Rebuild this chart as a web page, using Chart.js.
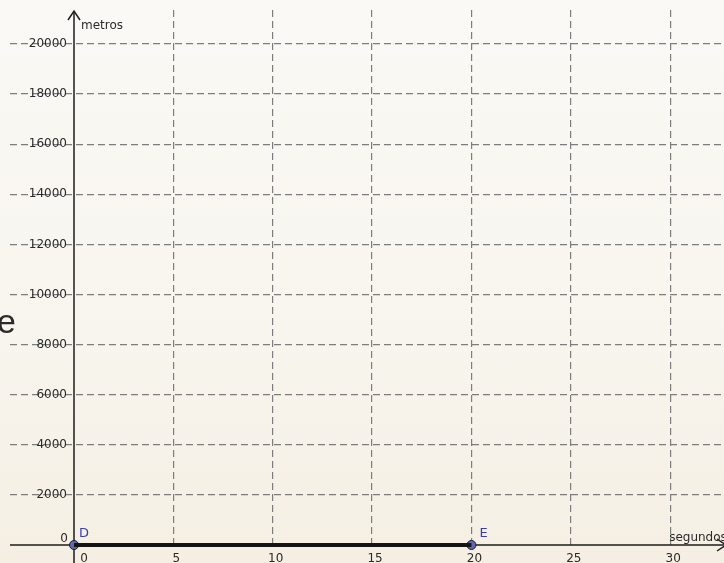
<!DOCTYPE html>
<html>
<head>
<meta charset="utf-8">
<script src="https://cdn.jsdelivr.net/npm/chart.js@4/dist/chart.umd.min.js"></script>
<style>
  html, body { margin: 0; padding: 0; }
  body { width: 724px; height: 563px; overflow: hidden;
    background: linear-gradient(to bottom, #faf9f5 0%, #f8f5ee 60%, #f5efe3 100%); }
  canvas { display: block; }
</style>
</head>
<body>
<canvas id="c" width="724" height="563"></canvas>
<script>
// ---- data ----
const xTicks = [0, 5, 10, 15, 20, 25, 30];
const yTicks = [0, 2000, 4000, 6000, 8000, 10000, 12000, 14000, 16000, 18000, 20000];
const pointLabels = ['D', 'E'];
const pointX = [0, 20];
const pointY = [0, 0];
const xTitle = 'segundos';
const yTitle = 'metros';
const sideText = 'e';

const segment = pointX.map((x, i) => ({ x: x, y: pointY[i] }));
const points = pointX.map((x, i) => ({ x: x, y: pointY[i], label: pointLabels[i] }));

const FONT = '12px "DejaVu Sans", sans-serif';
const AXIS = '#1e1e1e';

const overlay = {
  id: 'overlay',
  beforeDatasetsDraw(chart) {
    const ctx = chart.ctx;
    const xs = chart.scales.x, ys = chart.scales.y;
    const x0 = xs.getPixelForValue(0), y0 = ys.getPixelForValue(0);
    ctx.save();
    ctx.strokeStyle = AXIS;
    ctx.lineWidth = 1.5;
    ctx.beginPath();
    ctx.moveTo(10, y0); ctx.lineTo(chart.width, y0);
    ctx.moveTo(x0, 11); ctx.lineTo(x0, chart.height);
    ctx.stroke();
    ctx.beginPath();
    ctx.moveTo(x0 - 6, 20); ctx.lineTo(x0, 11); ctx.lineTo(x0 + 6, 20);
    ctx.stroke();
    const xe = chart.width + 2;
    ctx.beginPath();
    ctx.moveTo(xe - 9, y0 - 6); ctx.lineTo(xe, y0); ctx.lineTo(xe - 9, y0 + 6);
    ctx.stroke();
    ctx.fillStyle = '#2a2a2a';
    ctx.font = FONT;
    ctx.textAlign = 'right';
    ctx.textBaseline = 'middle';
    yTicks.forEach(v => {
      if (v === 0) {
        ctx.textBaseline = 'alphabetic';
        ctx.fillText('0', x0 - 6, y0 - 3);
        ctx.textBaseline = 'middle';
      } else {
        ctx.fillText(String(v), x0 - 7, ys.getPixelForValue(v));
      }
    });
    ctx.textAlign = 'center';
    ctx.textBaseline = 'alphabetic';
    xTicks.forEach(v => {
      const px = xs.getPixelForValue(v);
      ctx.fillText(String(v), v === 0 ? px + 10 : px + 3, 562);
    });
    ctx.textAlign = 'left';
    ctx.fillText(yTitle, x0 + 7, 29);
    ctx.fillText(xTitle, xs.getPixelForValue(30) - 1, 541);
    ctx.font = '34px "Liberation Sans", Arial, sans-serif';
    ctx.fillStyle = '#2a2a2a';
    ctx.fillText(sideText, -3, 333);
    ctx.restore();
  },
  afterDatasetsDraw(chart) {
    const ctx = chart.ctx;
    const xs = chart.scales.x, ys = chart.scales.y;
    ctx.save();
    ctx.font = '13px "DejaVu Sans", sans-serif';
    ctx.fillStyle = '#3b3bb0';
    ctx.textAlign = 'left';
    ctx.textBaseline = 'alphabetic';
    points.forEach((p, i) => {
      const px = xs.getPixelForValue(p.x), py = ys.getPixelForValue(p.y);
      ctx.fillText(p.label, px + (i === 0 ? 5 : 8), py - 8);
    });
    ctx.restore();
  }
};

const gridColor = (c) => (c.tick && c.tick.value === 0) ? 'rgba(0,0,0,0)' : '#7d7d7d';

new Chart(document.getElementById('c'), {
  type: 'scatter',
  data: {
    datasets: [
      {
        data: segment,
        showLine: true,
        borderColor: '#151515',
        borderWidth: 4,
        pointRadius: 0,
        clip: false
      },
      {
        data: points,
        pointRadius: 4.5,
        pointBackgroundColor: '#5f69b3',
        pointBorderColor: '#1b1b1b',
        pointBorderWidth: 1,
        showLine: false,
        clip: false
      }
    ]
  },
  options: {
    responsive: false,
    devicePixelRatio: 1,
    animation: false,
    layout: { autoPadding: false, padding: { left: 10, top: 10, right: 0, bottom: 18 } },
    plugins: { legend: { display: false }, tooltip: { enabled: false } },
    scales: {
      x: {
        type: 'linear',
        min: -3.221,
        max: 32.71,
        afterBuildTicks: (s) => { s.ticks = xTicks.map(v => ({ value: v })); },
        ticks: { display: false },
        border: { display: false, dash: [7, 4] },
        grid: { color: gridColor, lineWidth: 1.2, drawTicks: false }
      },
      y: {
        type: 'linear',
        min: 0,
        max: 21357,
        afterBuildTicks: (s) => { s.ticks = yTicks.map(v => ({ value: v })); },
        ticks: { display: false },
        border: { display: false, dash: [7, 4] },
        grid: { color: gridColor, lineWidth: 1.2, drawTicks: false }
      }
    }
  },
  plugins: [overlay]
});
</script>
</body>
</html>
